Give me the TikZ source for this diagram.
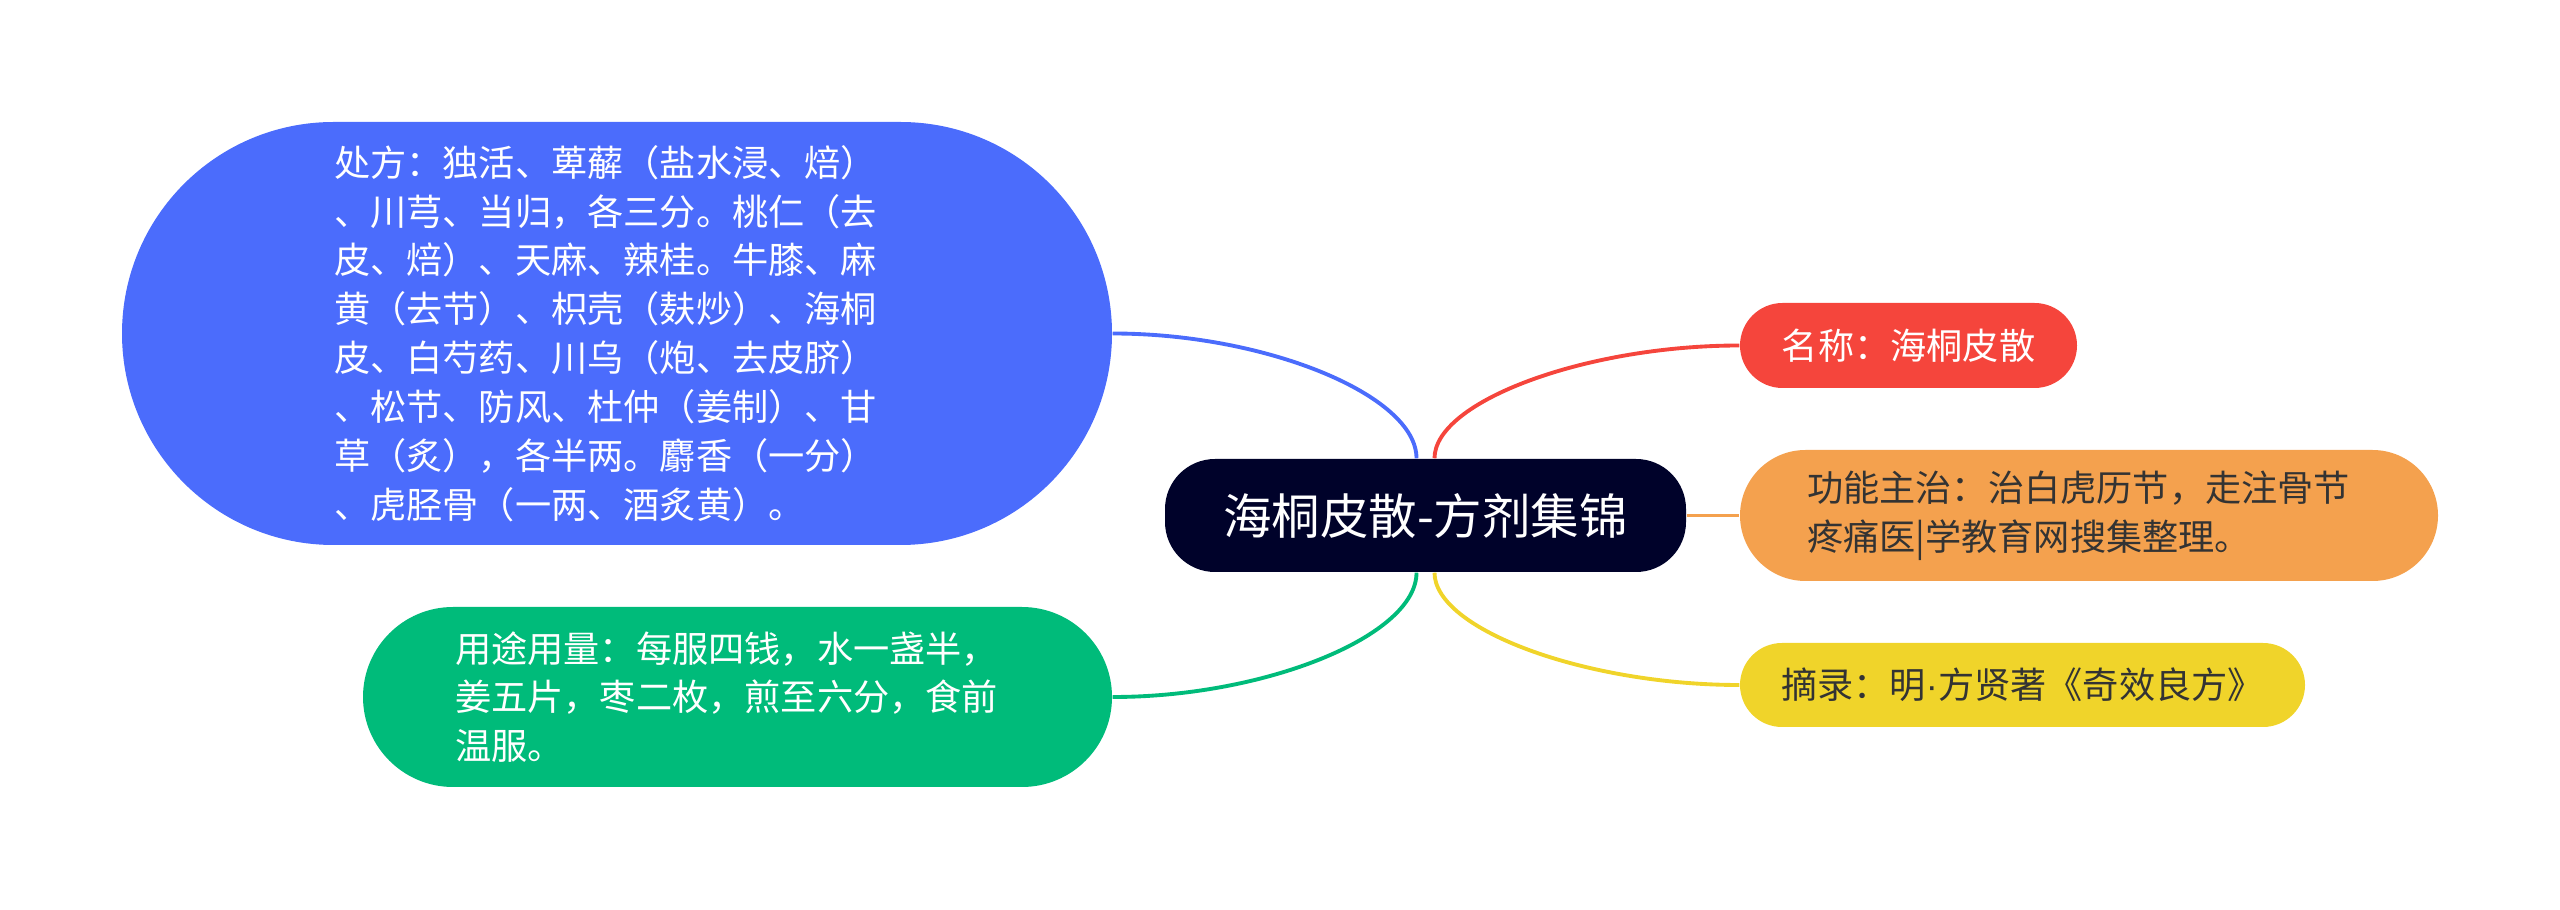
\documentclass[tikz,border=0pt]{standalone}
\usepackage{fontspec}
\setmainfont{Noto Sans CJK SC}
\newfontfamily\latinfont{Liberation Sans}
\usetikzlibrary{positioning}
\definecolor{rootnavy}{HTML}{00022A}
\definecolor{prescblue}{HTML}{4B6CFC}
\definecolor{usagegreen}{HTML}{00BB7A}
\definecolor{namered}{HTML}{F5453C}
\definecolor{funcorange}{HTML}{F4A14E}
\definecolor{srcyellow}{HTML}{F0D42A}
\definecolor{darktext}{HTML}{333333}

\begin{document}
\begin{tikzpicture}[
  topic/.style={inner sep=0pt, align=left, font=\fontsize{10.3pt}{13.9pt}\selectfont},
  link/.style={line width=1.1pt}
]

\useasboundingbox (0,0) rectangle (25.6,-9.1);

% =========== Central topic ===========
\node[topic, fill=rootnavy, text=white, minimum width=5.21cm, minimum height=1.13cm,
      rounded corners=0.5cm, font=\fontsize{13.8pt}{16pt}\selectfont]
  (root) at (14.255,-5.155) {海桐皮散-方剂集锦};

% =========== Left branches ===========
\node[topic, fill=prescblue, text=white, minimum width=9.9cm, minimum height=4.23cm,
      rounded corners=2.115cm, text width=5.66cm]
  (presc) at (6.17,-3.335) {%
  处方：独活、萆薢（盐水浸、焙）\\
  、川芎、当归，各三分。桃仁（去\\
  皮、焙）、天麻、辣桂。牛膝、麻\\
  黄（去节）、枳壳（麸炒）、海桐\\
  皮、白芍药、川乌（炮、去皮脐）\\
  、松节、防风、杜仲（姜制）、甘\\
  草（炙），各半两。麝香（一分）\\
  、虎胫骨（一两、酒炙黄）。};

\node[topic, fill=usagegreen, text=white, minimum width=7.49cm, minimum height=1.8cm,
      rounded corners=0.9cm, text width=5.65cm]
  (usage) at (7.375,-6.97) {%
  用途用量：每服四钱，水一盏半，\\
  姜五片，枣二枚，煎至六分，食前\\
  温服。};

% =========== Right branches ===========
\node[topic, fill=namered, text=white, minimum width=3.37cm, minimum height=0.85cm,
      rounded corners=0.425cm]
  (name) at (19.085,-3.455) {名称：海桐皮散};

\node[topic, fill=funcorange, text=darktext, minimum width=6.98cm, minimum height=1.31cm,
      rounded corners=0.655cm, text width=5.64cm]
  (func) at (20.89,-5.155) {%
  功能主治：治白虎历节，走注骨节\\
  疼痛医|学教育网搜集整理。};

\node[topic, fill=srcyellow, text=darktext, minimum width=5.65cm, minimum height=0.84cm,
      rounded corners=0.42cm]
  (source) at (20.225,-6.85) {摘录：明{\latinfont ·}方贤著《奇效良方》};

% =========== Connectors ===========
\draw[link, prescblue] ([xshift=-0.09cm]root.north)
  to[out=90, in=0, out distance=0.63cm, in distance=1.53cm] (presc.east);
\draw[link, namered] ([xshift=0.09cm]root.north)
  to[out=90, in=180, out distance=0.57cm, in distance=1.53cm] (name.west);
\draw[link, funcorange] (root.east) -- (func.west);
\draw[link, usagegreen] ([xshift=-0.09cm]root.south)
  to[out=-90, in=0, out distance=0.63cm, in distance=1.53cm] (usage.east);
\draw[link, srcyellow] ([xshift=0.09cm]root.south)
  to[out=-90, in=180, out distance=0.57cm, in distance=1.53cm] (source.west);

\end{tikzpicture}
\end{document}
